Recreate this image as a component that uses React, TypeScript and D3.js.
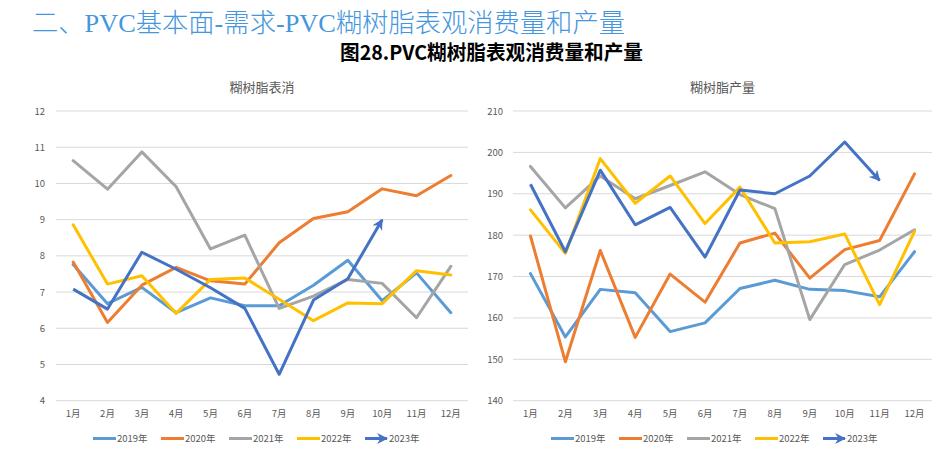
import React, { useEffect } from 'react';
import * as d3 from 'd3';

// months on the x axis
const months = ['1月', '2月', '3月', '4月', '5月', '6月', '7月', '8月', '9月', '10月', '11月', '12月'];
const years = ['2019年', '2020年', '2021年', '2022年', '2023年'];
const colors = ['#5B9BD5', '#ED7D31', '#A5A5A5', '#FFC000', '#4472C4'];

// 糊树脂表消 (left)
const consume2019 = [7.76, 6.68, 7.13, 6.43, 6.84, 6.62, 6.62, 7.19, 7.88, 6.76, 7.53, 6.43];
const consume2020 = [7.83, 6.16, 7.19, 7.68, 7.31, 7.22, 8.36, 9.03, 9.22, 9.85, 9.66, 10.22];
const consume2021 = [10.63, 9.84, 10.87, 9.91, 8.19, 8.57, 6.55, 6.89, 7.35, 7.24, 6.29, 7.71];
const consume2022 = [8.86, 7.22, 7.45, 6.41, 7.35, 7.39, 6.8, 6.21, 6.7, 6.68, 7.59, 7.47];
const consume2023 = [7.08, 6.53, 8.1, 7.63, 7.12, 6.55, 4.73, 6.78, 7.37, 9.0];
const consumeTicks = [4, 5, 6, 7, 8, 9, 10, 11, 12];

// 糊树脂产量 (right)
const output2019 = [170.7, 155.4, 166.9, 166.1, 156.7, 158.8, 167.1, 169.1, 166.9, 166.6, 165.1, 176.0];
const output2020 = [179.8, 149.4, 176.3, 155.3, 170.6, 163.8, 178.1, 180.5, 169.6, 176.5, 178.7, 194.8];
const output2021 = [196.6, 186.6, 194.3, 188.8, 192.0, 195.3, 189.8, 186.4, 159.6, 172.9, 176.4, 181.3];
const output2022 = [186.1, 175.6, 198.5, 187.7, 194.3, 182.8, 191.6, 178.1, 178.4, 180.3, 163.2, 180.9];
const output2023 = [192.3, 176.0, 195.7, 182.5, 186.7, 174.7, 190.9, 190.0, 194.3, 202.5, 193.2];
const outputTicks = [140, 150, 160, 170, 180, 190, 200, 210];

const FONT = '"Noto Sans CJK SC", "Noto Sans", sans-serif';

type PanelProps = {
  title: string;
  series: number[][];
  ticks: number[];
  x0: number;
  x1: number;
  labelRight: number;
  legendX: number;
  markerId: string;
};

const Panel: React.FC<PanelProps> = ({ title, series, ticks, x0, x1, labelRight, legendX, markerId }) => {
  const x = d3.scaleBand<string>().domain(months).range([x0, x1]);
  const y = d3.scaleLinear().domain([ticks[0], ticks[ticks.length - 1]]).range([400.7, 111]);
  const line = d3
    .line<number>()
    .x((_, i) => (x(months[i]) as number) + x.bandwidth() / 2)
    .y((d) => y(d));

  return (
    <g>
      <defs>
        <marker
          id={markerId}
          viewBox="0 0 10 10"
          refX="9"
          refY="5"
          markerWidth="11"
          markerHeight="11"
          markerUnits="userSpaceOnUse"
          orient="auto"
        >
          <path d="M0,0 L10,5 L0,10 L3,5 z" fill={colors[4]} />
        </marker>
      </defs>
      <text x={(x0 + x1) / 2} y={92} textAnchor="middle" fontSize={13} fill="#595959" fontFamily={FONT}>
        {title}
      </text>
      {ticks.map((t) => (
        <g key={t}>
          <line x1={x0} x2={x1} y1={y(t)} y2={y(t)} stroke="#D9D9D9" strokeWidth={1} />
          <text x={labelRight} y={y(t) + 3.5} textAnchor="end" fontSize={9.5} fill="#595959" fontFamily={FONT}>
            {t}
          </text>
        </g>
      ))}
      {months.map((m) => (
        <text
          key={m}
          x={(x(m) as number) + x.bandwidth() / 2}
          y={417}
          textAnchor="middle"
          fontSize={9.5}
          fill="#595959"
          fontFamily={FONT}
        >
          {m}
        </text>
      ))}
      {series.map((s, i) => (
        <path
          key={i}
          d={line(s) || ''}
          fill="none"
          stroke={colors[i]}
          strokeWidth={3}
          strokeLinejoin="round"
          strokeLinecap={i === 4 ? 'butt' : 'round'}
          markerEnd={i === 4 ? `url(#${markerId})` : undefined}
        />
      ))}
      {years.map((yr, i) => {
        const lx = legendX + i * 68;
        return (
          <g key={yr}>
            <line
              x1={lx}
              x2={i === 4 ? lx + 22 : lx + 23}
              y1={438.5}
              y2={438.5}
              stroke={colors[i]}
              strokeWidth={3}
              markerEnd={i === 4 ? `url(#${markerId})` : undefined}
            />
            <text x={lx + 24} y={442} fontSize={9.5} fill="#595959" fontFamily={FONT}>
              {yr}
            </text>
          </g>
        );
      })}
    </g>
  );
};

export default function App() {
  useEffect(() => {
    document.body.style.margin = '0';
  }, []);

  return (
    <svg width={943} height={458} style={{ display: 'block', background: '#fff' }}>
      <text
        x={32}
        y={32}
        fontSize={26}
        fontWeight={300}
        fill="#4496DE"
        fontFamily={'"Liberation Serif", "Noto Sans CJK SC", serif'}
        textLength={593}
        lengthAdjust="spacingAndGlyphs"
      >
        二、PVC基本面-需求-PVC糊树脂表观消费量和产量
      </text>
      <text x={340} y={60} fontSize={20} fontWeight="bold" fill="#000" fontFamily={FONT} textLength={303} lengthAdjust="spacingAndGlyphs">
        图28.PVC糊树脂表观消费量和产量
      </text>
      <Panel
        title="糊树脂表消"
        series={[consume2019, consume2020, consume2021, consume2022, consume2023]}
        ticks={consumeTicks}
        x0={56}
        x1={468}
        labelRight={45}
        legendX={93}
        markerId="arrowL"
      />
      <Panel
        title="糊树脂产量"
        series={[output2019, output2020, output2021, output2022, output2023]}
        ticks={outputTicks}
        x0={513}
        x1={932}
        labelRight={503}
        legendX={551}
        markerId="arrowR"
      />
    </svg>
  );
}
